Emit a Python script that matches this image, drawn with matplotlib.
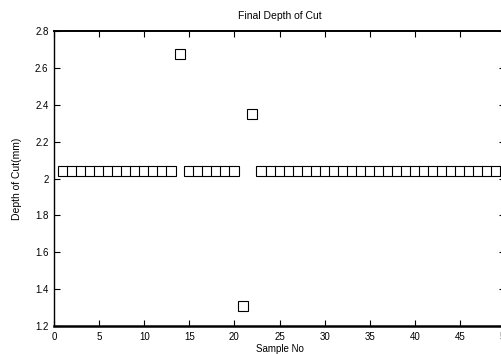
import matplotlib
matplotlib.use("Agg")
import matplotlib.pyplot as plt
import numpy as np

# sample numbers and measured final depth of cut (mm)
samples = np.arange(1, 51)
depth = [2.04] * 13 + [2.675] + [2.04] * 6 + [1.31, 2.35] + [2.04] * 28

yticks = [1.2, 1.4, 1.6, 1.8, 2.0, 2.2, 2.4, 2.6, 2.8]
ytick_labels = ["1.2", "1.4", "1.6", "1.8", "2", "2.2", "2.4", "2.6", "2.8"]
xticks = [0, 5, 10, 15, 20, 25, 30, 35, 40, 45, 50]

plt.rcParams['font.family'] = ['Liberation Sans', 'DejaVu Sans']

fig = plt.figure(figsize=(5.01, 3.54), dpi=100)
# right edge of the axes falls just outside the picture, as in the original
ax = fig.add_axes([0.1078, 0.079, 0.9003, 0.8334])

ax.plot(samples, depth, linestyle='none', marker='s', markersize=6.6,
        markerfacecolor='white', markeredgecolor='black', markeredgewidth=0.8,
        clip_on=False)

ax.set_xlim(0, 50)
ax.set_ylim(1.2, 2.8)
ax.set_xticks(xticks)
ax.set_yticks(yticks)
ax.set_yticklabels(ytick_labels)
ax.tick_params(direction='in', length=4, width=0.8, labelsize=7,
               top=True, right=True, pad=4)
for s in ax.spines.values():
    s.set_linewidth(1.0)
ax.spines['bottom'].set_linewidth(1.8)
ax.spines['top'].set_linewidth(1.4)

ax.set_title("Final Depth of Cut", fontsize=7.5, pad=9)
ax.set_xlabel("Sample No", fontsize=7, labelpad=1.5)
ax.set_ylabel("Depth of Cut(mm)", fontsize=7.5, labelpad=9)

fig.savefig("out.png", dpi=100)
